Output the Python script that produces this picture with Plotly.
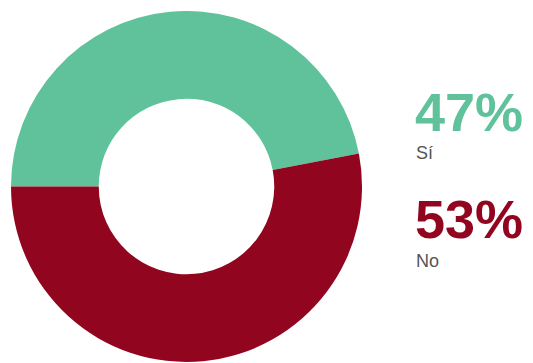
import plotly.graph_objects as go

labels = ["Sí", "No"]
values = [47, 53]
colors = ["#60C29A", "#92051F"]

fig = go.Figure()
fig.add_trace(go.Pie(
    labels=labels,
    values=values,
    hole=0.5,
    sort=False,
    direction="clockwise",
    rotation=270,
    marker=dict(colors=colors, line=dict(width=0)),
    textinfo="none",
    hoverinfo="label+percent",
    showlegend=False,
    domain=dict(x=[11/533, 362/533], y=[1-362/363, 1-11/363]),
))

W, H = 533, 363
pct_y = [110, 217]
lab_y = [152, 260]
for i, (lab, val, col) in enumerate(zip(labels, values, colors)):
    fig.add_annotation(
        x=414/W, y=1 - (pct_y[i] + 2)/H, xref="paper", yref="paper",
        xanchor="left", yanchor="middle", showarrow=False, borderpad=0,
        text=f"<b>{val}%</b>",
        font=dict(family="Liberation Sans, Arial, sans-serif", size=54, color=col),
    )
    fig.add_annotation(
        x=415/W, y=1 - (lab_y[i] + 1)/H, xref="paper", yref="paper",
        xanchor="left", yanchor="middle", showarrow=False, borderpad=0,
        text=lab,
        font=dict(family="Liberation Sans, Arial, sans-serif", size=18, color="#555555"),
    )

fig.update_layout(
    width=W, height=H,
    margin=dict(l=0, r=0, t=0, b=0),
    paper_bgcolor="white", plot_bgcolor="white",
)
fig.write_html(
    "out.html",
    config={"displayModeBar": False},
    post_script="document.body.style.margin='0';document.body.style.padding='0';",
)
